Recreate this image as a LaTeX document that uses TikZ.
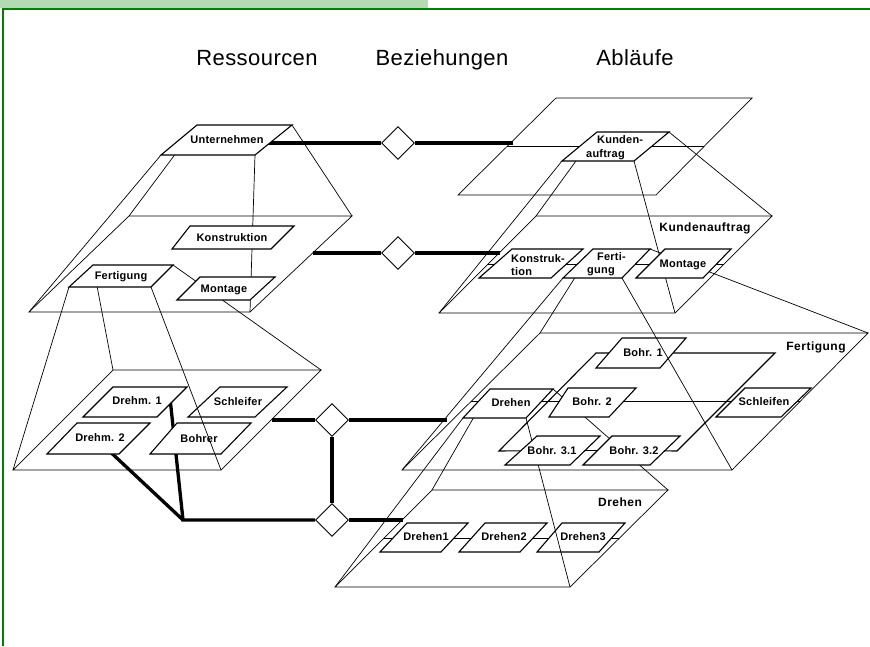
\documentclass[tikz,border=0pt]{standalone}
\usepackage{fontspec}
\setmainfont{Liberation Sans}
\newfontfamily\titlefont[LetterSpace=2]{Liberation Sans}
\newfontfamily\tagfont[LetterSpace=2]{Liberation Sans}
\newfontfamily\capfont[LetterSpace=4]{Liberation Sans}
\usetikzlibrary{shapes.geometric,calc}
\definecolor{framegreen}{RGB}{0,128,0}
\definecolor{bargreen}{RGB}{180,218,180}

% corner coordinates of a flat quadrilateral: name, y top, x top-left, x top-right, y bottom, x bottom-left, x bottom-right
\newcommand\quadc[7]{%
  \coordinate (#1-tl) at (#3,#2);
  \coordinate (#1-tr) at (#4,#2);
  \coordinate (#1-br) at (#7,#5);
  \coordinate (#1-bl) at (#6,#5);
  \coordinate (#1-c) at ($(#1-tl)!0.5!(#1-br)$);
}
\newcommand\quadpath[1]{(#1-tl) -- (#1-tr) -- (#1-br) -- (#1-bl) -- cycle}
% the four edges of a frustum between an element and the level below
\newcommand\pyramidlines[2]{\draw[pyr] (#1-tl) -- (#2-tl) (#1-tr) -- (#2-tr) (#1-br) -- (#2-br) (#1-bl) -- (#2-bl);}
% sequence line running across the middle of a level
\newcommand\planemid[1]{\draw[flow] ($(#1-tl)!0.5!(#1-bl)$) -- ($(#1-tr)!0.5!(#1-br)$);}

\begin{document}
\begin{tikzpicture}[x=1pt,y=-1pt,
  plane/.style={draw, line width=0.7pt, line join=miter},
  pyr/.style={draw, line width=0.7pt},
  flow/.style={draw, line width=1.1pt},
  tbox/.style={draw, fill=white, line width=1.1pt, line join=miter},
  link/.style={draw, line width=3.3pt},
  rel/.style={diamond, draw, fill=white, line width=0.9pt, minimum width=33pt, minimum height=33pt, inner sep=0pt},
  lbl/.style={font=\tagfont\bfseries\fontsize{11}{13.5}\selectfont, inner sep=0pt, text height=7.9pt, text depth=0pt},
  lbltwo/.style={font=\tagfont\bfseries\fontsize{11}{13.5}\selectfont, inner sep=0pt, align=left, anchor=west},
  biglbl/.style={font=\capfont\bfseries\fontsize{12}{14}\selectfont, inner sep=0pt, text height=8.6pt, text depth=0pt},
  title/.style={font=\titlefont\fontsize{22}{26}\selectfont, inner sep=0pt, text height=15.8pt, text depth=0pt}]
\useasboundingbox (0,0) rectangle (870,646);

% frame
\fill[bargreen] (0,0) rectangle (428,8);
\draw[framegreen, line width=2pt] (3,646) -- (3,9) -- (870,9);

% column headings
\node[title] (h-res) at (257,57.5) {Ressourcen};
\node[title] (h-bez) at (442,57.5) {Beziehungen};
\node[title] (h-abl) at (635,57.5) {Abläufe};

% ---------- geometry: resources ----------
\quadc{unt}{125}{197}{292}{155}{161}{255}
\quadc{rB}{216}{129}{352}{312}{29}{250}
\quadc{kon}{226}{190}{294}{249}{172}{271}
\quadc{fer}{265}{93}{173}{287}{69}{151}
\quadc{mon}{277}{200}{275}{300}{177}{250}
\quadc{rC}{370}{113}{321}{470}{13}{221}
\quadc{dm1}{387}{113}{187}{417}{83}{157}
\quadc{sch}{387}{220}{287}{417}{188}{255}
\quadc{dm2}{423}{77}{150}{454}{47}{119}
\quadc{boh}{423}{177}{251}{454}{150}{221}

% ---------- geometry: processes ----------
\quadc{aA}{98}{556}{752}{195}{458}{656}
\quadc{kun}{132}{597}{669}{161}{562}{634}
\quadc{aB}{216}{536}{772}{313}{439}{675}
\quadc{akon}{249}{512}{583}{278}{479}{551}
\quadc{afer}{249}{593}{650}{278}{563}{622}
\quadc{amon}{249}{665}{731}{278}{636}{703}
\quadc{aC}{333}{540}{868}{470}{402}{732}
\quadc{bo1}{338}{622}{686}{368}{596}{660}
\quadc{dre}{389}{490}{553}{418}{463}{526}
\quadc{bo2}{388}{568}{636}{417}{549}{609}
\quadc{sfn}{388}{745}{811}{417}{716}{781}
\quadc{b31}{436}{537}{600}{465}{505}{570}
\quadc{b32}{436}{612}{680}{465}{583}{650}
\quadc{aD}{490}{432}{668}{587}{335}{570}
\quadc{dh1}{523}{407}{468}{552}{380}{441}
\quadc{dh2}{523}{485}{547}{552}{459}{520}
\quadc{dh3}{523}{562}{625}{552}{537}{599}

% connector end points
\coordinate (jA) at (513,143);
\coordinate (rBport) at (313,253);
\coordinate (jB) at (500,253);
\coordinate (rCport) at (272,420);
\coordinate (jC) at (447,420);
\coordinate (jD) at (403,520);
\coordinate (hub) at (183,520);
\coordinate (dm1port) at (170,398);
\coordinate (dm2port) at (104,446);

% levels
\foreach \p in {rB,rC,aA,aB,aC,aD} \draw[plane] \quadpath{\p};

% sequence lines
\planemid{aA}
\planemid{aB}
\planemid{aC}
\planemid{aD}
\draw[flow] (bo1-c) -- ++(-45,0) -- ++(-97,98) -- (b31-c);
\draw[flow] (bo1-c) -- ++(134,0) -- ++(-98,98) -- (b32-c);
\draw[flow] (b31-c) -- (b32-c);

% relationships
\node[rel] (d1) at (398,143) {};
\node[rel] (d2) at (398,253) {};
\node[rel] (d3) at (332,420) {};
\node[rel] (d4) at (332,520) {};
\draw[link] (unt-c |- d1) -- (d1.west);
\draw[link] (d1.east) -- (jA);
\draw[link] (rBport) -- (d2.west);
\draw[link] (d2.east) -- (jB);
\draw[link] (rCport) -- (d3.west);
\draw[link] (d3.east) -- (jC);
\draw[link] (d3.south) -- (d4.north);
\draw[link] (d4.east) -- (jD);
\draw[link, line join=miter] (d4.west) -- (hub) -- (dm1port);
\draw[link] (hub) -- (dm2port);

% lowest elements
\foreach \b in {dm1,sch,dm2,boh,dh1,dh2,dh3} \draw[tbox] \quadpath{\b};
\node[lbl] (t-dm1) at (137,401) {Drehm. 1};
\node[lbl] (t-sch) at (238,402) {Schleifer};
\node[lbl] (t-dm2) at (100,438) {Drehm. 2};
\node[lbl] (t-boh) at (199,439) {Bohrer};
\node[lbl] (t-dh1) at (426,537) {Drehen1};
\node[lbl] (t-dh2) at (504,537) {Drehen2};
\node[lbl] (t-dh3) at (583,537) {Drehen3};

\pyramidlines{dre}{aD}

% middle elements of the process side
\foreach \b in {bo1,dre,bo2,sfn,b31,b32} \draw[tbox] \quadpath{\b};
\node[lbl] (t-bo1) at (643,353) {Bohr. 1};
\node[lbl] (t-dre) at (511,403) {Drehen};
\node[lbl] (t-bo2) at (592,402) {Bohr. 2};
\node[lbl] (t-sfn) at (764,402) {Schleifen};
\node[lbl] (t-b31) at (552,451) {Bohr. 3.1};
\node[lbl] (t-b32) at (634,451) {Bohr. 3.2};

\pyramidlines{fer}{rC}
\pyramidlines{afer}{aC}
\pyramidlines{unt}{rB}
\pyramidlines{kun}{aB}

% second level elements
\foreach \b in {kon,fer,mon,akon,afer,amon} \draw[tbox] \quadpath{\b};
\node[lbl] (t-kon) at (232,237.5) {Konstruktion};
\node[lbl] (t-fer) at (121,276) {Fertigung};
\node[lbl] (t-mon) at (224,289) {Montage};
\node[lbltwo] (t-akon) at (511,265) {Konstruk-\\tion};
\node[lbltwo] (t-afer) at (587,264) {\hspace*{10pt}Ferti-\\gung};
\node[lbl] (t-amon) at (683,263.5) {Montage};

% top elements
\draw[tbox] \quadpath{unt};
\draw[tbox] \quadpath{kun};
\node[lbl] (t-unt) at (227,140) {Unternehmen};
\node[lbltwo] (t-kun) at (586,147.5) {\hspace*{11pt}Kunden-\\auftrag};

% level captions
\node[biglbl] (l-kun) at (705,227) {Kundenauftrag};
\node[biglbl] (l-fer) at (816,346) {Fertigung};
\node[biglbl] (l-dre) at (620,502) {Drehen};
\end{tikzpicture}
\end{document}
